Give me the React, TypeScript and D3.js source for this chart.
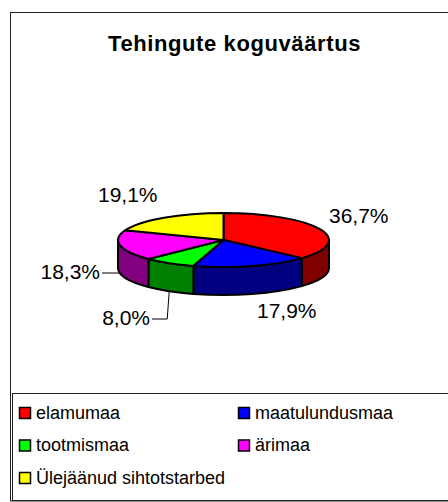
import React from "react";
import * as d3 from "d3";

// ---- data ----
const title = "Tehingute koguväärtus";
const categories = ["elamumaa", "maatulundusmaa", "tootmismaa", "ärimaa", "Ülejäänud sihtotstarbed"];
const values = [36.7, 17.9, 8.0, 18.3, 19.1];
const valueLabels = ["36,7%", "17,9%", "8,0%", "18,3%", "19,1%"];
const topColors = ["#FF0000", "#0000FF", "#00FF00", "#FF00FF", "#FFFF00"];
const sideColors = ["#800000", "#000080", "#008000", "#800080", "#808000"];

// ---- layout ----
const W = 448, H = 502;
const CX = 223.5, CY = 240, RX = 105.5, RY = 27, DEPTH = 28;
const FONT = "'Liberation Sans', Arial, Helvetica, sans-serif";
const labelLayout = [
  { x: 329, y: 223, anchor: "start", leader: false },
  { x: 257, y: 318, anchor: "start", leader: false },
  { x: 150, y: 325, anchor: "end", leader: true },
  { x: 100, y: 279, anchor: "end", leader: true },
  { x: 98, y: 202, anchor: "start", leader: false },
];
const legendCols = [19.5, 238.5];
const legendRows = [407.5, 440, 472.5];

function pt(a: number, dy = 0): [number, number] {
  return [CX + RX * Math.sin(a), CY - RY * Math.cos(a) + dy];
}
const f = (p: [number, number]) => `${p[0].toFixed(2)},${p[1].toFixed(2)}`;

export default function App() {
  const arcs = d3.pie<number>().sort(null).startAngle(0).endAngle(2 * Math.PI)(values);

  const sides = arcs.map((a, i) => {
    const s = Math.max(a.startAngle, Math.PI / 2);
    const e = Math.min(a.endAngle, (3 * Math.PI) / 2);
    if (e <= s) return null;
    const d = `M${f(pt(s))} A${RX},${RY} 0 0 1 ${f(pt(e))} L${f(pt(e, DEPTH))} A${RX},${RY} 0 0 0 ${f(pt(s, DEPTH))} Z`;
    return <path key={"s" + i} d={d} fill={sideColors[i]} stroke="#000" strokeWidth={2} strokeLinejoin="round" />;
  });

  const tops = arcs.map((a, i) => {
    const large = a.endAngle - a.startAngle > Math.PI ? 1 : 0;
    const d = `M${CX},${CY} L${f(pt(a.startAngle))} A${RX},${RY} 0 ${large} 1 ${f(pt(a.endAngle))} Z`;
    return <path key={"t" + i} d={d} fill={topColors[i]} stroke="#000" strokeWidth={2} strokeLinejoin="round" />;
  });

  const labels = arcs.map((a, i) => {
    const L = labelLayout[i];
    let leader = null;
    if (L.leader) {
      const mid = (a.startAngle + a.endAngle) / 2;
      const anchor = pt(mid, DEPTH);
      const sx = L.x + 2, sy = L.y - 6;
      leader = (
        <path
          d={`M${sx},${sy} L${(anchor[0] - 2).toFixed(2)},${sy} L${f(anchor)}`}
          fill="none"
          stroke="#000"
          strokeWidth={1}
        />
      );
    }
    return (
      <g key={"l" + i}>
        {leader}
        <text x={L.x} y={L.y} textAnchor={L.anchor as any} fontSize={21} fontFamily={FONT} fill="#000">
          {valueLabels[i]}
        </text>
      </g>
    );
  });

  const legend = categories.map((c, i) => {
    const x = legendCols[i % 2];
    const y = legendRows[Math.floor(i / 2)];
    return (
      <g key={"lg" + i}>
        <rect x={x} y={y} width={11} height={11} fill={topColors[i]} stroke="#000" strokeWidth={1.5} />
        <text x={x + 16.5} y={y + 11} fontSize={18} fontFamily={FONT} fill="#000">
          {c}
        </text>
      </g>
    );
  });

  return (
    <svg
      width={W}
      height={H}
      style={{ position: "absolute", left: 0, top: 0, background: "#fff" }}
    >
      <rect x={0} y={0} width={W} height={H} fill="#fff" />
      <rect x={10.5} y={12.5} width={500} height={488.5} fill="none" stroke="#222" strokeWidth={1} />
      <text
        x={234.5}
        y={51}
        textAnchor="middle"
        fontSize={22}
        fontWeight="bold"
        letterSpacing={0.6}
        fontFamily={FONT}
        fill="#000"
      >
        {title}
      </text>
      {sides}
      {tops}
      {labels}
      <rect x={12.5} y={393.5} width={500} height={107} fill="none" stroke="#222" strokeWidth={1} />
      {legend}
    </svg>
  );
}
